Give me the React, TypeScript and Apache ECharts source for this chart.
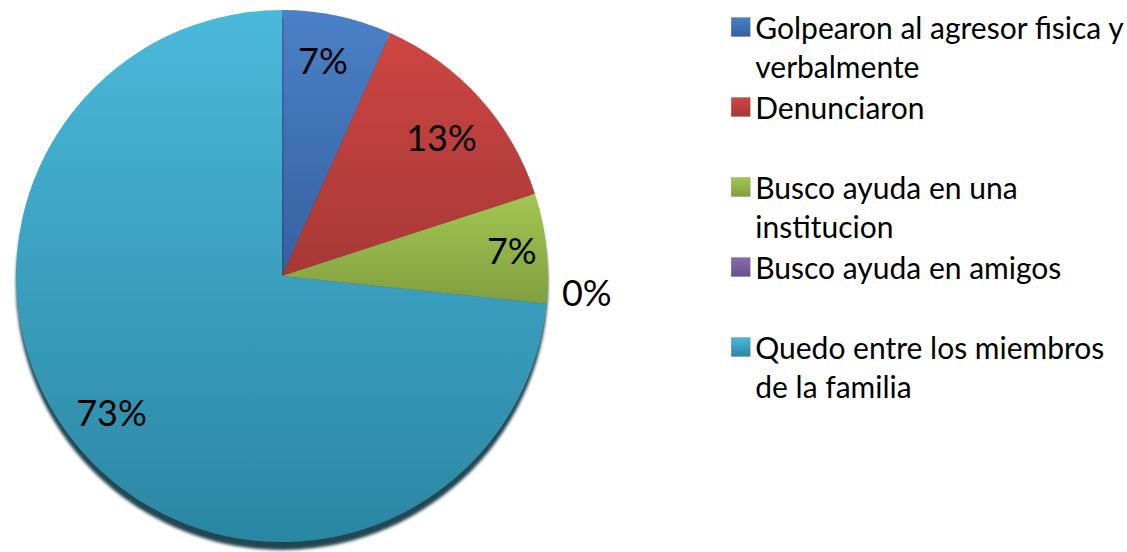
import React, { useEffect, useRef } from "react";
import * as echarts from "echarts";

const categories = [
  "Golpearon al agresor fisica y verbalmente",
  "Denunciaron",
  "Busco ayuda en una institucion",
  "Busco ayuda en amigos",
  "Quedo entre los miembros de la familia",
];
const legendLines = [
  ["Golpearon al agresor fisica y", "verbalmente"],
  ["Denunciaron"],
  ["Busco ayuda en una", "institucion"],
  ["Busco ayuda en amigos"],
  ["Quedo entre los miembros", "de la familia"],
];
const values = [1, 2, 1, 0, 11];
const topColors = ["#4a80c8", "#cc4642", "#a2c653", "#8a6bb0", "#4ab9da"];
const bottomColors = ["#3761a0", "#a83836", "#819f3f", "#67508c", "#2b86a3"];

const CX = 282;
const CY = 276;
const R = 266;
const FONT = "Lato, 'Open Sans', sans-serif";
const LEG_FS = 30;
const LEG_LH = 39;
const labelOffsets = [[-4, -5], [-1, 6], [15, -3], [90, -7], [-10, -9]];

function grad(i: number) {
  return new echarts.graphic.LinearGradient(0, 0, 0, 1, [
    { offset: 0, color: topColors[i] },
    { offset: 1, color: bottomColors[i] },
  ]);
}

export default function App() {
  const ref = useRef<HTMLDivElement>(null);
  useEffect(() => {
    document.body.style.margin = "0";
    if (!ref.current) return;
    const chart = echarts.init(ref.current, undefined, { renderer: "svg" });
    const mainData = categories.map((name, i) => ({
      name,
      value: values[i],
      itemStyle: { color: grad(i) },
    }));
    const labelData = categories.map((name, i) => ({
      name,
      value: values[i],
      label: { offset: labelOffsets[i] },
    }));
    chart.setOption({
      animation: false,
      legend: {
        data: categories,
        left: 731,
        top: 27 - LEG_LH * 1.5,
        padding: 0,
        orient: "vertical",
        itemWidth: 19,
        itemHeight: 19,
        itemGap: 2,
        icon: "rect",
        selectedMode: false,
        formatter: (name: string) => {
          const i = categories.indexOf(name);
          const lines = legendLines[i];
          return lines.length > 1 ? "\n" + lines.join("\n") : lines[0];
        },
        textStyle: {
          fontFamily: FONT,
          fontSize: LEG_FS,
          lineHeight: LEG_LH,
          color: "#000",
        },
        itemStyle: { borderColor: "rgba(0,0,0,0.25)", borderWidth: 0.5 },
      },
      series: [
        {
          type: "pie",
          center: [CX, CY],
          radius: [0, R],
          startAngle: 90,
          clockwise: true,
          silent: true,
          label: { show: false },
          labelLine: { show: false },
          itemStyle: {
            shadowBlur: 3,
            shadowColor: "rgba(18,60,74,0.95)",
            shadowOffsetY: 8,
          },
          data: mainData,
        },
        {
          type: "pie",
          center: [CX, CY],
          radius: [160, R],
          startAngle: 90,
          clockwise: true,
          silent: true,
          percentPrecision: 0,
          itemStyle: { color: "rgba(0,0,0,0)" },
          label: {
            show: true,
            position: "inside",
            formatter: "{d}%",
            fontFamily: FONT,
            fontSize: 36,
            color: "#000",
          },
          labelLine: { show: false },
          data: labelData,
        },
      ],
    });
    return () => chart.dispose();
  }, []);
  return <div ref={ref} style={{ width: 1127, height: 552 }} />;
}
